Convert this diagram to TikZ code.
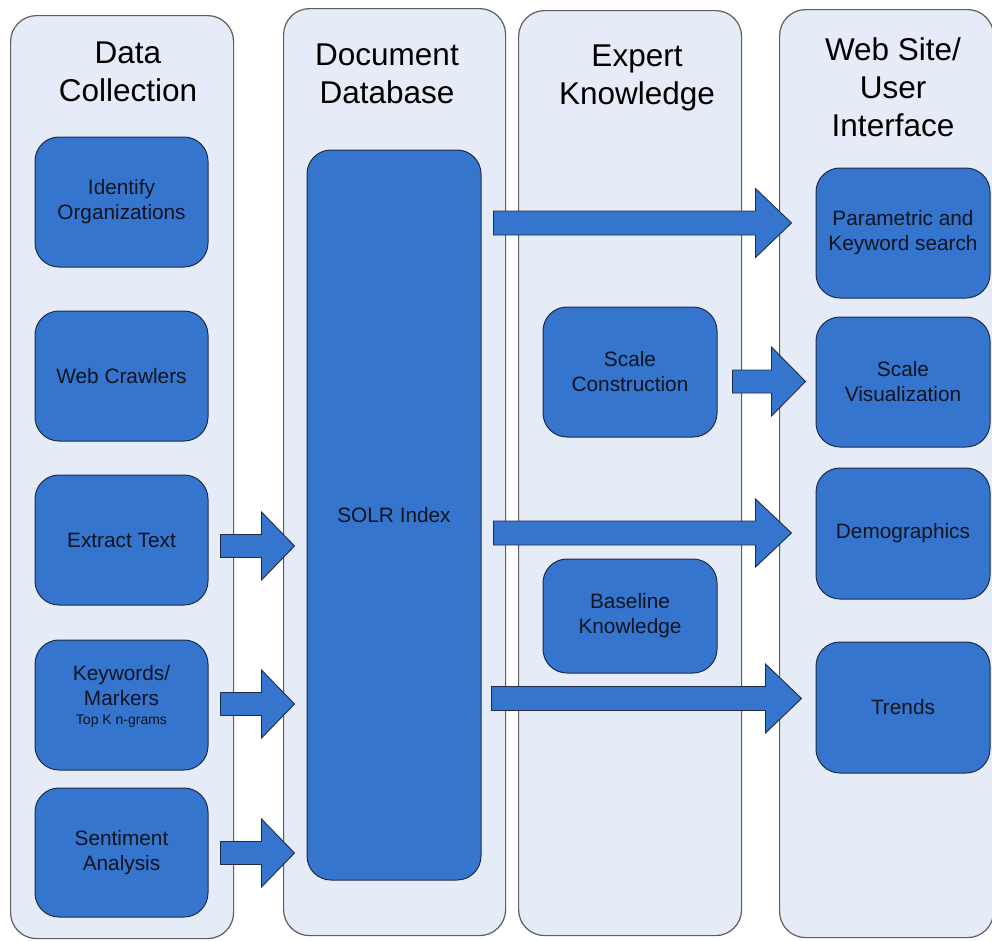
\documentclass[tikz,border=0pt]{standalone}
\usepackage{fontspec}
\setmainfont{Liberation Sans}
\usetikzlibrary{calc}

\definecolor{lanefill}{HTML}{E6ECF7}
\definecolor{laneline}{HTML}{5E5E5E}
\definecolor{boxblue}{HTML}{3575CD}
\definecolor{boxline}{HTML}{1E2C48}
\definecolor{inktext}{HTML}{0E1420}

% Block arrow: #1 start point, #2 tip point (same height),
% #3 half shaft width, #4 half head width, #5 head length
\newcommand\fatarrow[5]{%
  \draw[flow] let \p1=#1, \p2=#2 in
    (\x1,\y1-#3pt) -- (\x2-#5pt,\y1-#3pt) -- (\x2-#5pt,\y1-#4pt) --
    (\x2,\y1) -- (\x2-#5pt,\y1+#4pt) -- (\x2-#5pt,\y1+#3pt) --
    (\x1,\y1+#3pt) -- cycle;}

\begin{document}
\begin{tikzpicture}[x=1pt,y=-1pt,
  lane/.style={draw=laneline, fill=lanefill, line width=1.2pt,
    rounded corners=26pt, anchor=north west, inner sep=0pt},
  lanetitle/.style={font=\fontsize{31.5}{38}\selectfont, align=center,
    inner sep=0pt, anchor=north, text=black},
  task/.style={draw=boxline, fill=boxblue, line width=1pt,
    rounded corners=24pt, minimum width=173pt, minimum height=130pt,
    inner sep=0pt, align=center, text=inktext,
    font=\fontsize{20.8}{25}\selectfont},
  flow/.style={draw=boxline, fill=boxblue, line width=0.9pt, line join=miter}]

\fill[white] (0,0) rectangle (992,940);
\useasboundingbox (0,0) rectangle (992,940);

% swim lanes
\node[lane, minimum width=223pt, minimum height=923pt] (collect) at (10,15) {};
\node[lane, minimum width=222pt, minimum height=927pt] (docdb) at (283,8) {};
\node[lane, minimum width=223pt, minimum height=925pt] (expert) at (518,10) {};
\node[lane, minimum width=214pt, minimum height=928pt] (web) at (779,9) {};

% lane headings
\node[lanetitle] (t1) at (128,42) {Data\\Collection};
\node[lanetitle] (t2) at (387,44) {Document\\Database};
\node[lanetitle] (t3) at (637,45) {Expert\\Knowledge};
\node[lanetitle] (t4) at (893,37) {Web Site/\\User\\Interface};

% data collection steps
\node[task] (idorg) at (121.5,202) {Identify\\Organizations};
\node[task] (crawl) at (121.5,376) {Web Crawlers};
\node[task] (ext)   at (121.5,540) {Extract Text};
\node[task, text depth=21pt] (kw) at (121.5,705)
  {Keywords/\\Markers\\[-6pt]{\fontsize{14}{18}\selectfont Top K n-grams}};
\node[task, minimum height=129pt] (sent) at (121.5,852.5) {Sentiment\\Analysis};

% index
\node[task, minimum width=174pt, minimum height=730pt] (solr) at (394,515) {SOLR Index};

% expert knowledge
\node[task, minimum width=174pt] (scon) at (630,372) {Scale\\Construction};
\node[task, minimum width=174pt, minimum height=114pt] (base) at (630,616) {Baseline\\Knowledge};

% user interface
\node[task, minimum width=174pt] (param) at (903,233) {Parametric and\\Keyword search};
\node[task, minimum width=174pt] (svis)  at (903,382) {Scale\\Visualization};
\node[task, minimum width=174pt, minimum height=131pt] (demo)  at (903,533.5) {Demographics};
\node[task, minimum width=174pt, minimum height=131pt] (trend) at (903,707.5) {Trends};

% flows into the index
\fatarrow{($(ext.east)+(12,6)$)}{($(solr.west |- ext)+(-12,6)$)}{11.5}{34}{33}
\fatarrow{($(kw.east)+(12,-1)$)}{($(solr.west |- kw)+(-12,-1)$)}{11.5}{34}{33}
\fatarrow{($(sent.east)+(12,0.5)$)}{($(solr.west |- sent)+(-12,0.5)$)}{11.5}{34}{33}

% flows out to the interface
\fatarrow{($(solr.east |- param)+(12,-10)$)}{($(param.west)+(-24,-10)$)}{12}{34.5}{36}
\fatarrow{($(solr.east |- demo)+(12,-0.5)$)}{($(demo.west)+(-24,-0.5)$)}{12}{34}{36}
\fatarrow{($(solr.east |- trend)+(10,-9)$)}{($(trend.west)+(-14,-9)$)}{12}{34.5}{36}
\fatarrow{($(scon.east |- svis)+(15,-0.5)$)}{($(svis.west)+(-10,-0.5)$)}{11.5}{34.5}{34}

\end{tikzpicture}
\end{document}
